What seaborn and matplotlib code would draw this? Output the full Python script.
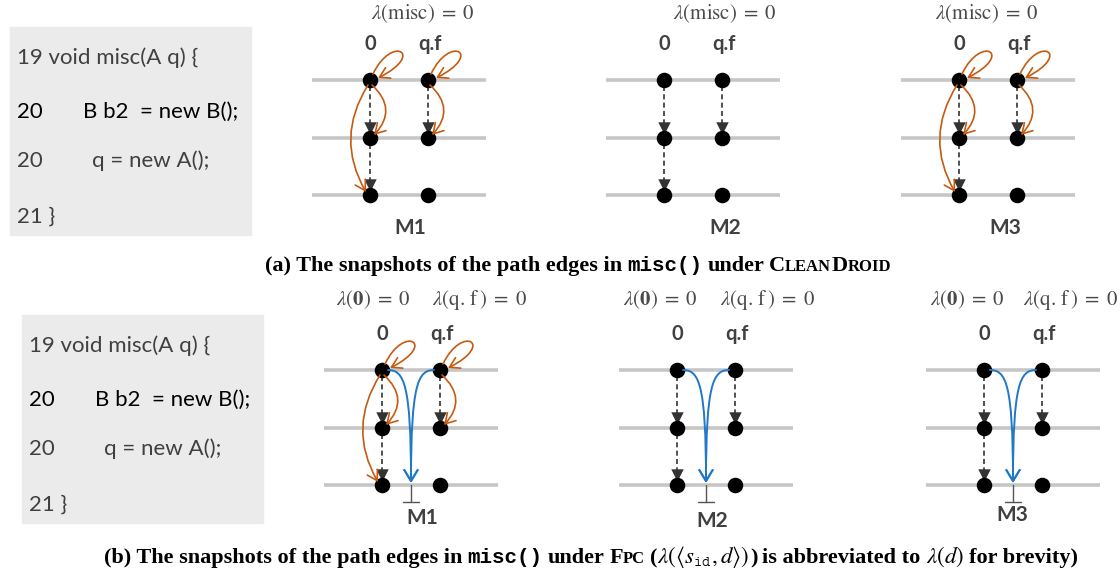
import matplotlib.pyplot as plt
import seaborn as sns
from matplotlib.patches import FancyArrowPatch, Rectangle
from matplotlib.path import Path

# ---- content ----
code_lines = [("19 void misc(A q) {", ""), ("20", "B b2  = new B();"),
              ("20", "q = new A();"), ("21 }", "")]
code_colors = ["#404040", "black", "#404040", "#404040"]
var_labels = ["0", "q.f"]
panel_names = ["M1", "M2", "M3"]
top_lambda = r"$\lambda(\mathrm{misc})\;=\;0$"
bot_lambda = [r"$\lambda(\mathbf{0})\;=\;0$", r"$\lambda(\mathrm{q.\,f\,})\;=\;0$"]
# (column, from row, to row)
dashed_edges = [(0, 0, 1), (0, 1, 2), (1, 0, 1)]
# orange edges: self loops and curved edges (column, from row, to row, bend)
orange_loops = [0, 1]
orange_edges = [(0, 0, 1, -0.5), (0, 0, 2, 0.3), (1, 0, 1, -0.5)]
top_has_orange = [True, False, True]
bot_has_orange = [True, False, False]

# ---- layout (pixels) ----
W, H = 1120, 573
GAP = 58
top_x0 = [370, 664, 959]
bot_x0 = [382, 677, 984]
top_rows = [80, 138, 195]
bot_rows = [370, 428, 485]
top_lam_dx = [53, 61, 28]
top_name_dx = [40, 61, 46]
bot_lam_dx = [(-9, 97), (-17, 90), (-17, 86)]
bot_name_dx = [40, 35, 28]
bot_name_y = [518, 521, 515]

ORANGE = "#C55A11"
BLUE = "#1F78C8"
GRAYTXT = "#404040"

sns.set_theme(style="white")
plt.rcParams['font.family'] = ['Lato', 'DejaVu Sans']
plt.rcParams['mathtext.fontset'] = 'stix'

fig = plt.figure(figsize=(W / 100, H / 100), dpi=100)
ax = fig.add_axes([0, 0, 1, 1])
ax.set_xlim(0, W)
ax.set_ylim(H, 0)
ax.axis('off')


def code_box(x, y):
    ax.add_patch(Rectangle((x, y), 241, 208, color="#ebebeb", zorder=0))
    baselines = [37, 91, 140, 196]
    code_dx = [0, 73, 82, 0]
    for (num, code), c, dy, cdx in zip(code_lines, code_colors, baselines, code_dx):
        ax.text(x + 7, y + dy, num, fontsize=16, color=c, va='baseline')
        if code:
            ax.text(x + cdx, y + dy, code, fontsize=16, color=c, va='baseline')


def panel(x0, rows, orange, blue):
    xs = [x0, x0 + GAP]
    for y in rows:
        ax.plot([x0 - GAP, x0 + 2 * GAP], [y, y], color="#c6c6c6", lw=2.6,
                solid_capstyle='butt', zorder=1)
    for col, r0, r1 in dashed_edges:
        x = xs[col]
        ax.plot([x, x], [rows[r0] + 6, rows[r1] - 12], color="#333333", lw=1.2,
                ls=(0, (3, 2)), zorder=2)
        ax.scatter([x], [rows[r1] - 10], marker='v', s=80, color="#333333",
                   zorder=3, linewidths=0)
    for x in xs:
        ax.scatter([x] * 3, rows, s=125, color='black', zorder=5, linewidths=0)
    hs = "->,head_length=0.5,head_width=0.3"
    if orange:
        for col in orange_loops:
            x, y = xs[col], rows[0]
            verts = [(x + 3, y - 6), (x + 22, y - 46), (x + 56, y - 26), (x + 8, y - 2)]
            p = Path(verts, [Path.MOVETO, Path.CURVE4, Path.CURVE4, Path.CURVE4])
            ax.add_patch(FancyArrowPatch(path=p, arrowstyle=hs, mutation_scale=14,
                                         color=ORANGE, lw=1.2, zorder=6))
        for col, r0, r1, rad in orange_edges:
            x = xs[col]
            sx = 4 if rad < 0 else -4
            ax.add_patch(FancyArrowPatch((x + sx * 0.5, rows[r0] + 5),
                                         (x + sx, rows[r1] - 3),
                                         connectionstyle=f"arc3,rad={rad}",
                                         arrowstyle=hs, mutation_scale=14,
                                         color=ORANGE, lw=1.2, zorder=6,
                                         shrinkA=0, shrinkB=0))
    if blue:
        xm = x0 + GAP / 2
        for x, s in [(xs[0], 1), (xs[1], -1)]:
            verts = [(x + 6 * s, rows[0]), (x + 22 * s, rows[0]),
                     (xm, rows[0] + 14), (xm, rows[2] - 2)]
            p = Path(verts, [Path.MOVETO, Path.CURVE4, Path.CURVE4, Path.CURVE4])
            ax.add_patch(FancyArrowPatch(path=p, arrowstyle=hs, mutation_scale=16,
                                         color=BLUE, lw=1.4, zorder=6))
        ax.plot([xm, xm], [rows[2], rows[2] + 17], color="#555555", lw=1, zorder=2)
        ax.plot([xm - 8, xm + 8], [rows[2] + 17] * 2, color="#555555", lw=1, zorder=2)
    for x, lab in zip(xs, var_labels):
        ax.text(x + (2 if lab != "0" else 0), rows[0] - 36, lab, fontsize=14.5,
                fontweight='bold', color=GRAYTXT, ha='center', va='center')


code_box(10, 27)
code_box(22, 315)

for i, x0 in enumerate(top_x0):
    panel(x0, top_rows, top_has_orange[i], False)
    ax.text(x0 + top_lam_dx[i], 14, top_lambda, fontsize=15, color="#4a4a4a",
            ha='center', va='center')
    ax.text(x0 + top_name_dx[i], 228, panel_names[i], fontsize=15,
            fontweight='bold', color=GRAYTXT, ha='center', va='center')

for i, x0 in enumerate(bot_x0):
    panel(x0, bot_rows, bot_has_orange[i], True)
    for lam, dx in zip(bot_lambda, bot_lam_dx[i]):
        ax.text(x0 + dx, 300, lam, fontsize=15, color="#4a4a4a",
                ha='center', va='center')
    ax.text(x0 + bot_name_dx[i], bot_name_y[i], panel_names[i], fontsize=15,
            fontweight='bold', color=GRAYTXT, ha='center', va='center')

# ---- captions ----
SERIF = dict(family='Liberation Serif', fontweight='bold', fontsize=16, color='black')
SMALL = dict(family='Liberation Serif', fontweight='bold', fontsize=12, color='black')
MONO = dict(family='Liberation Mono', fontweight='bold', fontsize=15, color='black')
MATH = dict(fontsize=16.5, color='black')
SP = 5

renderer = fig.canvas.get_renderer()


def text_row(parts, xc, y):
    objs = []
    for s, kw, gap in parts:
        objs.append((ax.text(0, y, s, ha='left', va='baseline', **kw), gap))
    widths = [t.get_window_extent(renderer).width for t, _ in objs]
    total = sum(widths) + sum(g for _, g in objs[:-1])
    x = xc - total / 2
    for (t, g), w in zip(objs, widths):
        t.set_x(x)
        x += w + g


text_row([("(a) The snapshots of the path edges in", SERIF, SP),
          ("misc()", MONO, SP), ("under", SERIF, SP),
          ("C", SERIF, 0), ("LEAN", SMALL, 0), ("D", SERIF, 0), ("ROID", SMALL, 0)],
         578, 271)

text_row([("(b) The snapshots of the path edges in", SERIF, SP),
          ("misc()", MONO, SP), ("under", SERIF, SP),
          ("F", SERIF, 0), ("PC", SMALL, SP), ("(", SERIF, 0),
          (r"$\lambda(\langle s_{\mathtt{id}}, d\rangle)$", MATH, 0),
          (")", SERIF, SP), ("is abbreviated to", SERIF, SP),
          (r"$\lambda(d)$", MATH, SP), ("for brevity)", SERIF, 0)],
         591, 563)

fig.savefig("out.png", dpi=100)
